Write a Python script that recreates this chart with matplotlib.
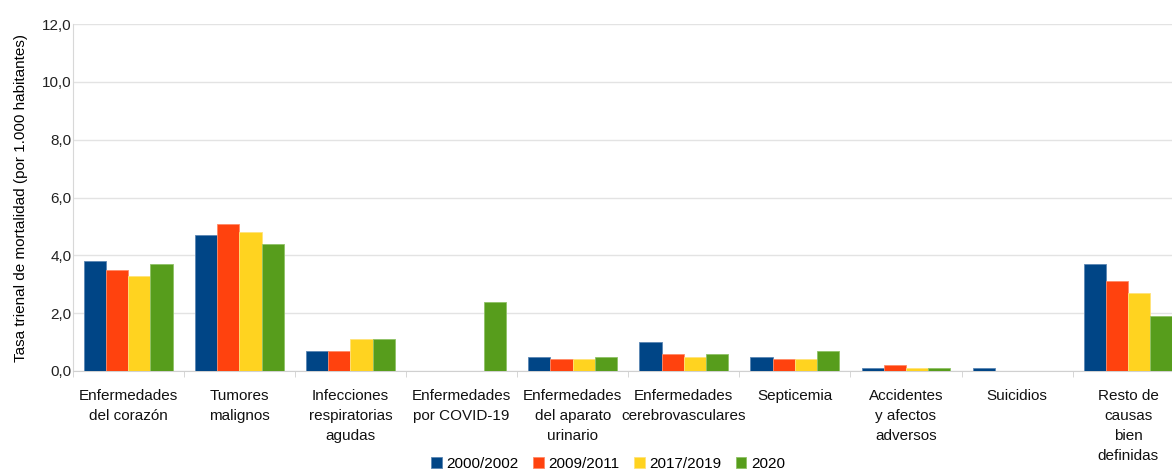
import matplotlib.pyplot as plt
import numpy as np

plt.rcParams['font.family'] = ['Liberation Sans', 'DejaVu Sans']

categories = ["Enfermedades\ndel corazón", "Tumores\nmalignos", "Infecciones\nrespiratorias\nagudas",
              "Enfermedades\npor COVID-19", "Enfermedades\ndel aparato\nurinario",
              "Enfermedades\ncerebrovasculares", "Septicemia", "Accidentes\ny afectos\nadversos",
              "Suicidios", "Resto de\ncausas\nbien\ndefinidas"]
periods = ["2000/2002", "2009/2011", "2017/2019", "2020"]
v_2000 = [3.8, 4.7, 0.7, 0.0, 0.5, 1.0, 0.5, 0.1, 0.1, 3.7]
v_2009 = [3.5, 5.1, 0.7, 0.0, 0.4, 0.6, 0.4, 0.2, 0.0, 3.1]
v_2017 = [3.3, 4.8, 1.1, 0.0, 0.4, 0.5, 0.4, 0.1, 0.0, 2.7]
v_2020 = [3.7, 4.4, 1.1, 2.4, 0.5, 0.6, 0.7, 0.1, 0.0, 1.9]
colors = ["#004586", "#ff420e", "#ffd320", "#579d1c"]
edges = ["#5a86b3", "#ff8a66", "#ffe37a", "#8fc266"]

fig = plt.figure(figsize=(11.72, 4.7), dpi=100)
ax = fig.add_axes([72.7 / 1172, 99 / 470, 1111 / 1172, 347 / 470])

x = np.arange(len(categories))
w = 0.2
for i, vals in enumerate([v_2000, v_2009, v_2017, v_2020]):
    ax.bar(x + (i - 1.5) * w, vals, width=w, color=colors[i], edgecolor=edges[i],
           linewidth=0.6, label=periods[i], zorder=3)

ax.set_xlim(-0.5, len(categories) - 0.5)
ax.set_ylim(0, 12)
ax.set_yticks(np.arange(0, 13, 2))
ax.set_yticklabels([f"{t:.1f}".replace(".", ",") for t in np.arange(0, 13, 2)], fontsize=11, color="#222222")
ax.yaxis.grid(True, color="#e3e3e3", linewidth=1, zorder=0)
ax.tick_params(axis="y", length=0, pad=1)

ax.set_xticks(x)
ax.set_xticklabels(categories, fontsize=11, linespacing=1.55, color="#111111")
ax.tick_params(axis="x", which="major", length=0, pad=13)
ax.set_xticks(np.arange(-0.5, len(categories), 1), minor=True)
ax.tick_params(axis="x", which="minor", length=4, color="#d0d0d0")

for s in ["top", "right"]:
    ax.spines[s].set_visible(False)
ax.spines["bottom"].set_color("#d0d0d0")
ax.spines["left"].set_color("#d8d8d8")

ax.set_ylabel("Tasa trienal de mortalidad (por 1.000 habitantes)", fontsize=11, labelpad=10)

fig.legend(loc="center", bbox_to_anchor=(608 / 1172, 6 / 470), ncol=4, frameon=False,
           fontsize=11, handlelength=0.7, handleheight=0.7, handletextpad=0.3,
           columnspacing=0.95)

fig.savefig("out.png", dpi=100)
